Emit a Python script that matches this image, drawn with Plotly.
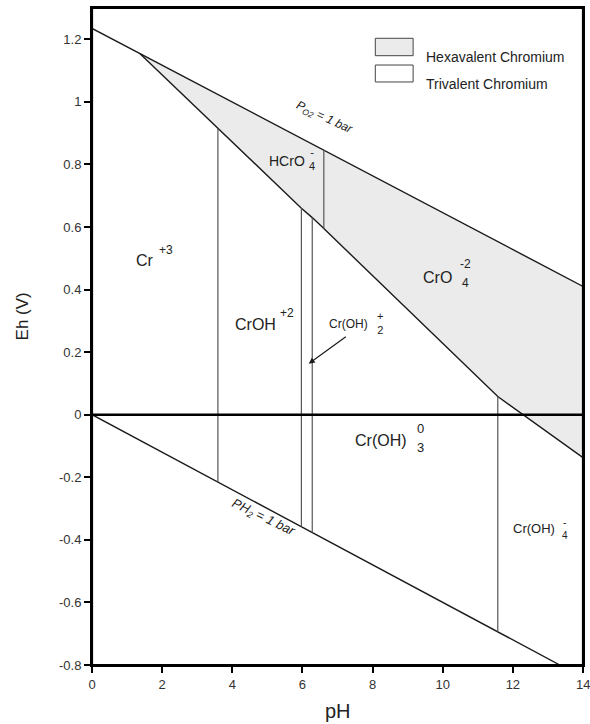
import plotly.graph_objects as go

# ---------------- data ----------------
# O2 = 1 bar line (upper water stability limit)
o2_ph = [0.0, 14.0]
o2_eh = [1.235, 0.41]
# H2 = 1 bar line (lower water stability limit)
h2_ph = [0.0, 13.34]
h2_eh = [0.0, -0.80]
# Eh = 0 reference line
zero_ph = [0.0, 14.0]
zero_eh = [0.0, 0.0]
# Cr(VI) / Cr(III) boundary
boundary_ph = [1.37, 3.59, 5.97, 6.28, 6.61, 11.57, 14.0]
boundary_eh = [1.154, 0.915, 0.66, 0.63, 0.595, 0.058, -0.137]
# vertical (pH-dependent) boundaries
vert_ph = [3.59, 5.97, 6.28, 6.61, 11.57]
vert_bottom = [-0.215, -0.358, -0.377, 0.595, -0.694]
vert_top = [0.915, 0.66, 0.63, 0.846, 0.058]

x_ticks = [0, 2, 4, 6, 8, 10, 12, 14]
x_ticktext = ["0", "2", "4", "6", "8", "10", "12", "14"]
y_ticks = [-0.8, -0.6, -0.4, -0.2, 0, 0.2, 0.4, 0.6, 0.8, 1.0, 1.2]
y_ticktext = ["-0.8", "-0.6", "-0.4", "-0.2", "0", "0.2", "0.4", "0.6", "0.8", "1", "1.2"]

legend_labels = ["Hexavalent Chromium", "Trivalent Chromium"]
legend_fills = ["#ebebeb", "#ffffff"]

FONT = "Liberation Sans, Arial, Helvetica, sans-serif"
LINE = "#1a1a1a"
VLINE = "#555555"
TXT = "#222222"
TICKC = "#333333"

fig = go.Figure()

# hexavalent region fill
poly_x = [boundary_ph[0], o2_ph[1]] + boundary_ph[::-1]
poly_eh_top_start = o2_eh[0] + (o2_eh[1] - o2_eh[0]) / (o2_ph[1] - o2_ph[0]) * boundary_ph[0]
poly_y = [poly_eh_top_start, o2_eh[1]] + boundary_eh[::-1]
fig.add_trace(go.Scatter(x=poly_x, y=poly_y, mode="lines", fill="toself",
                         fillcolor=legend_fills[0], line=dict(width=0),
                         hoverinfo="skip", showlegend=False))

# water lines
fig.add_trace(go.Scatter(x=o2_ph, y=o2_eh, mode="lines",
                         line=dict(color=LINE, width=1.4), showlegend=False))
fig.add_trace(go.Scatter(x=h2_ph, y=h2_eh, mode="lines",
                         line=dict(color=LINE, width=1.4), showlegend=False))
# boundary
fig.add_trace(go.Scatter(x=boundary_ph, y=boundary_eh, mode="lines",
                         line=dict(color=LINE, width=1.4), showlegend=False))
# verticals
vx, vy = [], []
for p, b, t in zip(vert_ph, vert_bottom, vert_top):
    vx += [p, p, None]
    vy += [b, t, None]
fig.add_trace(go.Scatter(x=vx, y=vy, mode="lines",
                         line=dict(color=VLINE, width=1.2), showlegend=False))
# Eh = 0 line on top of the fill
fig.add_trace(go.Scatter(x=zero_ph, y=zero_eh, mode="lines",
                         line=dict(color="black", width=2.5), showlegend=False))

# ---------------- labels ----------------
def txt(x, y, s, size, **kw):
    fig.add_annotation(x=x, y=y, text=s, showarrow=False,
                       font=dict(family=FONT, size=size, color=TXT), **kw)

txt(1.51, 0.493, "Cr", 16)
txt(2.11, 0.528, "+3", 12)
txt(4.65, 0.288, "CrOH", 16)
txt(5.56, 0.326, "+2", 12)
txt(7.30, 0.291, "Cr(OH)", 12)
txt(8.22, 0.292, "+<br>2", 11)
txt(5.56, 0.81, "HCrO", 14)
txt(6.26, 0.816, "-<br>4", 11)
txt(9.85, 0.438, "CrO", 16)
txt(10.64, 0.482, "-2", 12)
txt(10.64, 0.422, "4", 12)
txt(8.24, -0.082, "Cr(OH)", 16)
txt(9.38, -0.045, "0", 13)
txt(9.38, -0.104, "3", 13)
txt(12.61, -0.365, "Cr(OH)", 13)
txt(13.48, -0.366, "-<br>4", 10)
txt(6.63, 0.95, "<i>P<sub>O2</sub> = 1 bar</i>", 12, textangle=25)
txt(4.87, -0.33, "<i>PH<sub>2</sub> = 1 bar</i>", 13, textangle=26)

# arrow to Cr(OH)2+ field
fig.add_annotation(x=6.18, y=0.163, ax=7.28, ay=0.253, axref="x", ayref="y",
                   xref="x", yref="y", text="", showarrow=True,
                   arrowhead=2, arrowsize=1, arrowwidth=1.2, arrowcolor=LINE)

# last x tick label (sits at the window edge; drawn as an annotation so the
# axis keeps its full width)
fig.add_annotation(x=x_ticks[-1], y=-0.029, xref="x", yref="paper",
                   text=x_ticktext[-1], showarrow=False, xanchor="center",
                   yanchor="middle", font=dict(family=FONT, size=13, color=TICKC))

# axis titles
fig.add_annotation(x=-0.142, y=0.531, xref="paper", yref="paper", text="Eh (V)",
                   textangle=-90, showarrow=False, xanchor="center", yanchor="middle",
                   font=dict(family=FONT, size=17, color=TXT))
fig.add_annotation(x=0.5, y=-0.07, xref="paper", yref="paper", text="pH",
                   showarrow=False, xanchor="center", yanchor="middle",
                   font=dict(family=FONT, size=20, color=TXT))

# legend (drawn manually)
box_y = [(0.9274, 0.9539), (0.8874, 0.9132)]
for (y0, y1), lab, fc in zip(box_y, legend_labels, legend_fills):
    fig.add_shape(type="rect", xref="paper", yref="paper", x0=0.577, x1=0.654,
                  y0=y0, y1=y1, fillcolor=fc, line=dict(color="#444444", width=1))
    fig.add_annotation(x=0.676, y=(y0 + y1) / 2, xref="paper", yref="paper",
                       text=lab, showarrow=False, xanchor="left",
                       font=dict(family=FONT, size=14, color=TXT))

# plot frame drawn on top of everything
fig.add_shape(type="rect", xref="paper", yref="paper", x0=0, x1=1, y0=0, y1=1,
              line=dict(color="black", width=2.2), layer="above")

axis_common = dict(showgrid=False, showline=True, linewidth=2, linecolor="black",
                   mirror=True, ticks="outside", ticklen=6, tickwidth=1.5,
                   tickcolor="black",
                   tickfont=dict(family=FONT, size=13, color=TICKC))

fig.update_layout(
    width=590, height=724,
    margin=dict(l=92, r=5, t=8, b=59),
    paper_bgcolor="white", plot_bgcolor="white",
    showlegend=False,
    xaxis=dict(range=[0, 14], tickvals=x_ticks,
               ticktext=x_ticktext[:-1] + [""],
               zeroline=False, **axis_common),
    yaxis=dict(range=[-0.8, 1.3], tickvals=y_ticks, ticktext=y_ticktext,
               zeroline=False, **axis_common),
)

# remove the default 8px page margin so the figure fills the window exactly
fig.write_html("out.html", config={"displayModeBar": False},
               post_script="document.body.style.margin='0';"
                           "document.body.style.overflow='hidden';")
